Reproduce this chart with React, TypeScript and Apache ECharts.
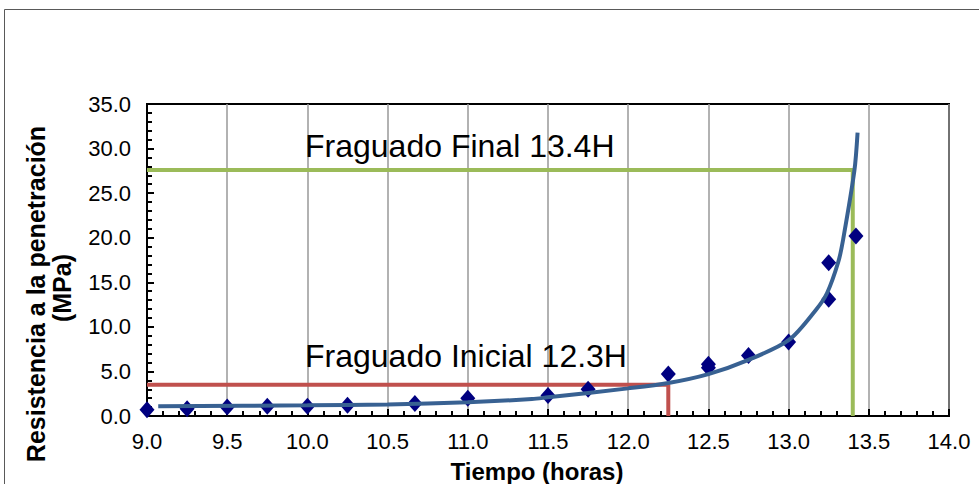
import React, { useEffect, useRef } from "react";
import * as echarts from "echarts";

// Measured penetration resistance (MPa) vs time (hours)
const hours = [9.0, 9.25, 9.5, 9.75, 10.0, 10.25, 10.67, 11.0, 11.5, 11.75, 12.25, 12.5, 12.5, 12.75, 13.0, 13.25, 13.25, 13.42];
const resistance = [0.7, 0.8, 1.0, 1.1, 1.1, 1.2, 1.4, 2.0, 2.3, 3.0, 4.7, 5.8, 5.4, 6.8, 8.3, 17.2, 13.1, 20.2];

// Fitted trend curve
const fitHours = [9.07, 10.0, 10.5, 11.0, 11.4, 11.5, 12.0, 12.25, 12.5, 12.75, 13.0, 13.17, 13.24, 13.31, 13.34, 13.41, 13.43];
const fitResistance = [1.1, 1.2, 1.3, 1.55, 1.9, 2.1, 3.1, 3.7, 4.7, 6.3, 8.5, 11.9, 13.8, 17.3, 19.8, 27.5, 31.8];

// Setting-time markers
const initialSet = { hour: 12.25, mpa: 3.5, label: "Fraguado Inicial 12.3H" };
const finalSet = { hour: 13.4, mpa: 27.6, label: "Fraguado Final 13.4H" };

const xMin = 9.0;
const xMax = 14.0;
const xStep = 0.5;
const yMin = 0;
const yMax = 35;
const yStep = 5;
const minorSplits = 5;

const xTitle = "Tiempo (horas)";
const yTitle1 = "Resistencia a la penetración";
const yTitle2 = "(MPa)";

const FONT = "'Liberation Sans', Arial, sans-serif";

export default function App() {
  const ref = useRef<HTMLDivElement>(null);

  useEffect(() => {
    if (!ref.current) return;
    const chart = echarts.init(ref.current, null, { renderer: "svg" });
    const pts = hours.map((h, i) => [h, resistance[i]]);
    const fit = fitHours.map((h, i) => [h, fitResistance[i]]);

    const tickStyle = { color: "#000", width: 2 };

    chart.setOption({
      animation: false,
      backgroundColor: "#ffffff",
      textStyle: { fontFamily: FONT },
      grid: {
        left: 147,
        right: 30,
        top: 104,
        bottom: 68,
        show: true,
        borderColor: "#000",
        borderWidth: 2,
        backgroundColor: "transparent",
      },
      xAxis: {
        type: "value",
        min: xMin,
        max: xMax,
        interval: xStep,
        axisLine: { show: true, onZero: false, lineStyle: { color: "#000", width: 2 } },
        axisTick: { show: true, inside: true, length: 7, lineStyle: tickStyle },
        minorTick: { show: true, splitNumber: minorSplits, length: 5, lineStyle: tickStyle },
        splitLine: { show: true, lineStyle: { color: "#999", width: 1.5 } },
        axisLabel: {
          formatter: (v: number) => v.toFixed(1),
          fontSize: 22,
          color: "#000",
          margin: 14,
          fontFamily: FONT,
        },
      },
      yAxis: {
        type: "value",
        min: yMin,
        max: yMax,
        interval: yStep,
        axisLine: { show: true, onZero: false, lineStyle: { color: "#000", width: 2 } },
        axisTick: { show: true, inside: true, length: 7, lineStyle: tickStyle },
        minorTick: { show: true, splitNumber: minorSplits, length: 5, lineStyle: tickStyle },
        splitLine: { show: false },
        axisLabel: {
          formatter: (v: number) => v.toFixed(1),
          fontSize: 22,
          color: "#000",
          margin: 16,
          fontFamily: FONT,
        },
      },
      graphic: [
        {
          type: "rect",
          silent: true,
          z: -10,
          shape: { x: 4.5, y: 9.5, width: 1200, height: 1200 },
          style: { fill: "none", stroke: "#595959", lineWidth: 1 },
        },
        {
          type: "text",
          x: 305,
          y: 146,
          z: 50,
          style: { text: finalSet.label, font: `32px ${FONT}`, fill: "#000", verticalAlign: "middle", align: "left" },
        },
        {
          type: "text",
          x: 305,
          y: 356,
          z: 50,
          style: { text: initialSet.label, font: `32px ${FONT}`, fill: "#000", verticalAlign: "middle", align: "left" },
        },
        {
          type: "text",
          x: 537,
          y: 471,
          style: { text: xTitle, font: `bold 24px ${FONT}`, fill: "#000", verticalAlign: "middle", align: "center" },
        },
        {
          type: "text",
          x: 36,
          y: 294,
          rotation: Math.PI / 2,
          style: { text: yTitle1, font: `bold 25px ${FONT}`, fill: "#000", verticalAlign: "middle", align: "center" },
        },
        {
          type: "text",
          x: 62,
          y: 288,
          rotation: Math.PI / 2,
          style: { text: yTitle2, font: `bold 25px ${FONT}`, fill: "#000", verticalAlign: "middle", align: "center" },
        },
      ],
      series: [
        {
          name: "Fraguado Final",
          type: "line",
          data: [
            [xMin, finalSet.mpa],
            [finalSet.hour, finalSet.mpa],
            [finalSet.hour, yMin],
          ],
          showSymbol: false,
          symbol: "none",
          lineStyle: { color: "#9BBB59", width: 4 },
          z: 2,
        },
        {
          name: "Fraguado Inicial",
          type: "line",
          data: [
            [xMin, initialSet.mpa],
            [initialSet.hour, initialSet.mpa],
            [initialSet.hour, yMin],
          ],
          showSymbol: false,
          symbol: "none",
          lineStyle: { color: "#C0504D", width: 4 },
          z: 2,
        },
        {
          name: "Datos",
          type: "scatter",
          data: pts,
          symbol: "diamond",
          symbolSize: [15, 17],
          itemStyle: { color: "#000080", opacity: 1 },
          z: 3,
        },
        {
          name: "Ajuste",
          type: "line",
          data: fit,
          smooth: 0.3,
          showSymbol: false,
          symbol: "none",
          lineStyle: { color: "#386192", width: 4 },
          z: 4,
        },
      ],
    });

    return () => chart.dispose();
  }, []);

  return (
    <div
      ref={ref}
      style={{ position: "fixed", left: 0, top: 0, width: 979, height: 484, background: "#fff" }}
    />
  );
}
